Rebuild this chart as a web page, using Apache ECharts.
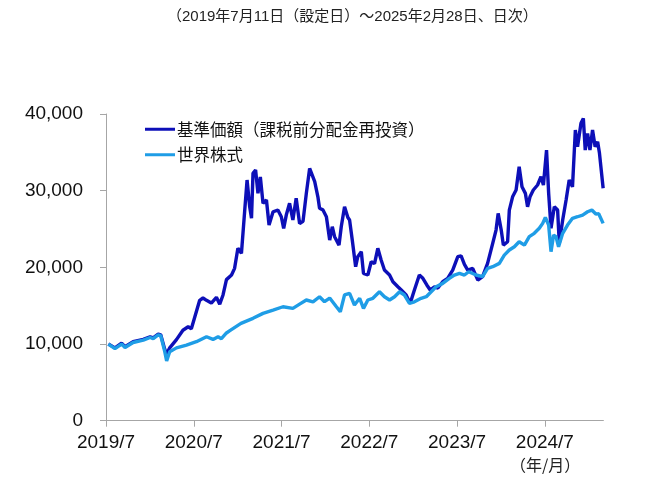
<!DOCTYPE html>
<html>
<head>
<meta charset="utf-8">
<script src="https://cdn.jsdelivr.net/npm/echarts@6/dist/echarts.min.js"></script>
<style>html,body{margin:0;padding:0;background:#fff}#c{width:650px;height:495px}</style>
</head>
<body>
<div id="c"></div>
<script>
const titleText = '（2019年7月11日（設定日）～2025年2月28日、日次）';
const unitText = '（年/月）';
const seriesNames = ['基準価額（課税前分配金再投資）', '世界株式'];
const xTickLabels = ['2019/7', '2020/7', '2021/7', '2022/7', '2023/7', '2024/7'];
const yTicks = [0, 10000, 20000, 30000, 40000];
const startDate = '2019-07-01';
const endDate = '2025-02-28';

const fundDates = ['2019-07-11','2019-08-08','2019-09-05','2019-09-19','2019-10-23','2019-12-04','2020-01-02','2020-01-15','2020-02-05','2020-02-15','2020-03-02','2020-03-10','2020-03-23','2020-04-20','2020-05-17','2020-06-08','2020-06-21','2020-07-05','2020-07-26','2020-08-09','2020-08-24','2020-09-13','2020-10-04','2020-10-18','2020-11-01','2020-11-15','2020-11-21','2020-12-06','2020-12-19','2021-01-02','2021-01-17','2021-01-31','2021-02-09','2021-02-19','2021-02-26','2021-03-04','2021-03-15','2021-03-25','2021-04-04','2021-04-15','2021-04-29','2021-05-10','2021-05-27','2021-06-16','2021-06-30','2021-07-10','2021-07-21','2021-08-04','2021-08-18','2021-09-01','2021-09-15','2021-09-29','2021-10-13','2021-10-27','2021-11-03','2021-11-17','2021-11-30','2021-12-07','2021-12-21','2022-01-05','2022-01-19','2022-01-30','2022-02-08','2022-02-25','2022-03-06','2022-03-20','2022-04-03','2022-04-10','2022-04-21','2022-05-05','2022-05-14','2022-05-29','2022-06-07','2022-06-25','2022-07-09','2022-07-23','2022-08-06','2022-08-20','2022-09-03','2022-09-24','2022-10-08','2022-10-29','2022-11-12','2022-12-02','2022-12-19','2023-01-06','2023-01-27','2023-02-10','2023-02-25','2023-03-11','2023-03-29','2023-04-12','2023-05-02','2023-05-23','2023-06-13','2023-07-04','2023-07-18','2023-08-01','2023-08-15','2023-09-05','2023-09-26','2023-10-16','2023-11-06','2023-11-27','2023-12-11','2023-12-20','2024-01-02','2024-01-11','2024-01-29','2024-02-05','2024-02-18','2024-03-03','2024-03-16','2024-03-28','2024-04-11','2024-04-20','2024-04-30','2024-05-14','2024-06-01','2024-06-15','2024-06-25','2024-07-08','2024-07-17','2024-07-27','2024-08-10','2024-08-24','2024-08-31','2024-09-14','2024-09-28','2024-10-11','2024-10-25','2024-11-06','2024-11-15','2024-11-29','2024-12-09','2024-12-17','2024-12-27','2025-01-06','2025-01-17','2025-01-28','2025-02-07','2025-02-14','2025-02-28'];
const fundValues = [10000,9500,10100,9650,10300,10600,10950,10800,11300,11200,9300,8700,9500,10570,11800,12250,12000,13500,15700,16000,15700,15350,16100,15200,16400,18400,18570,19000,19870,22480,21830,27470,31390,27900,26400,32260,32700,29650,31800,28350,28780,25520,27250,27470,26600,25090,26820,28350,26170,29000,25720,26000,29650,32900,33120,31170,29200,27700,27500,26600,23560,25300,24000,22900,25300,27900,26500,26170,23560,20080,21390,22040,19220,19000,20730,20500,22480,20950,19650,19000,18120,17470,17040,16390,15300,17040,19000,18570,17700,17040,17470,17300,18120,18570,19650,21390,21500,20400,19650,19870,18350,18780,20520,23130,24860,27040,24860,22900,23340,27470,29200,30090,33120,30500,29650,27900,29200,30090,30740,31830,30740,35300,29650,25090,27900,27470,23130,26170,28780,31390,30500,37910,35730,38780,39430,35300,37470,35300,37910,35730,36390,34870,30310];

const worldDates = ['2019-07-11','2019-08-08','2019-09-05','2019-09-19','2019-10-23','2019-12-04','2020-01-02','2020-01-15','2020-02-05','2020-02-15','2020-03-02','2020-03-10','2020-03-23','2020-04-20','2020-06-01','2020-07-12','2020-08-24','2020-09-20','2020-10-11','2020-10-25','2020-11-15','2020-11-29','2021-01-15','2021-03-04','2021-04-15','2021-05-27','2021-07-07','2021-08-18','2021-09-15','2021-10-13','2021-11-10','2021-12-07','2021-12-28','2022-01-19','2022-02-15','2022-03-02','2022-03-20','2022-04-10','2022-04-30','2022-05-22','2022-06-07','2022-06-25','2022-07-16','2022-08-13','2022-09-03','2022-09-24','2022-10-15','2022-11-05','2022-11-25','2022-12-16','2023-01-06','2023-02-03','2023-02-23','2023-03-15','2023-04-05','2023-05-02','2023-05-30','2023-06-20','2023-07-11','2023-08-01','2023-08-19','2023-09-19','2023-10-16','2023-11-06','2023-11-27','2023-12-25','2024-01-15','2024-02-05','2024-02-25','2024-03-16','2024-04-07','2024-04-27','2024-05-18','2024-06-08','2024-06-22','2024-07-03','2024-07-17','2024-07-27','2024-08-07','2024-08-17','2024-08-28','2024-09-14','2024-10-04','2024-10-25','2024-11-15','2024-12-06','2024-12-27','2025-01-14','2025-01-31','2025-02-11','2025-02-28'];
const worldValues = [10000,9400,10000,9550,10200,10500,10850,10700,11200,11100,9000,7800,9000,9500,9870,10300,10950,10600,10950,10700,11440,11740,12700,13350,14000,14430,14860,14650,15200,15740,15500,16170,15520,16000,14860,14210,16400,16610,15090,15960,14650,15740,15960,16820,16170,15740,16170,16820,16390,15300,15500,15960,16170,16820,17470,17910,18570,19000,19220,19000,19430,19000,18780,19870,20080,20520,21600,22260,22690,23340,22900,24000,24440,25090,25740,26520,25520,22040,24210,24000,22690,24440,25520,26390,26600,26820,27250,27470,26950,27000,25740];

// convert date string to months elapsed since startDate
function toMonths(s) {
  const [y, m, d] = s.split('-').map(Number);
  const [y0, m0] = startDate.split('-').map(Number);
  const dim = new Date(y, m, 0).getDate();
  return (y - y0) * 12 + (m - m0) + (d - 1) / dim;
}
const xMax = toMonths(endDate) + 1 / 28;
const xTickVals = xTickLabels.map(function (l) { const p = l.split('/'); return toMonths(p[0] + '-' + ('0' + p[1]).slice(-2) + '-01'); });

const FONT = "'Liberation Sans', Arial, 'Noto Sans CJK JP', sans-serif";
const CJK = "'Noto Sans CJK JP', 'Liberation Sans', sans-serif";

const chart = echarts.init(document.getElementById('c'), null, { renderer: 'canvas' });
chart.setOption({
  animation: false,
  backgroundColor: '#ffffff',
  title: {
    text: titleText,
    left: 162, top: 4,
    textStyle: { fontSize: 15, fontWeight: 'normal', color: '#222', fontFamily: FONT }
  },
  graphic: [{
    type: 'text', left: 510, top: 457,
    style: { text: unitText, fontSize: 16, fill: '#222', fontFamily: CJK }
  }],
  legend: {
    orient: 'vertical', left: 140, top: 116,
    icon: 'rect', itemWidth: 30, itemHeight: 3, itemGap: 9,
    textStyle: { fontSize: 16.5, color: '#111', fontFamily: CJK, padding: [0, 0, 0, -3] },
    data: seriesNames
  },
  grid: { left: 106, right: 46.6, top: 114, bottom: 74.3, containLabel: false },
  xAxis: {
    type: 'value', min: 0, max: xMax,
    axisLine: { show: true, lineStyle: { color: '#a6a6a6', width: 1 } },
    axisTick: { show: true, length: 6, lineStyle: { color: '#a6a6a6' }, customValues: xTickVals },
    axisLabel: {
      customValues: xTickVals,
      formatter: function (v) { const i = xTickVals.findIndex(t => Math.abs(t - v) < 1e-6); return i >= 0 ? xTickLabels[i] : ''; },
      fontSize: 19, color: '#111', fontFamily: FONT, margin: 13
    },
    splitLine: { show: false }
  },
  yAxis: {
    type: 'value', min: yTicks[0], max: yTicks[yTicks.length - 1], interval: 10000,
    axisLine: { show: true, lineStyle: { color: '#a6a6a6', width: 1 } },
    axisTick: { show: true, length: 6, lineStyle: { color: '#a6a6a6' } },
    axisLabel: {
      formatter: function (v) { return v.toLocaleString('en-US'); },
      fontSize: 19, color: '#111', fontFamily: FONT, margin: 23
    },
    splitLine: { show: false }
  },
  series: [
    {
      name: seriesNames[0], type: 'line', showSymbol: false, symbol: 'none',
      color: '#0d0fb8',
      lineStyle: { width: 3.4, color: '#0d0fb8' },
      data: fundDates.map((d, i) => [toMonths(d), fundValues[i]])
    },
    {
      name: seriesNames[1], type: 'line', showSymbol: false, symbol: 'none',
      color: '#1f9de6',
      lineStyle: { width: 3.4, color: '#1f9de6' },
      data: worldDates.map((d, i) => [toMonths(d), worldValues[i]])
    }
  ]
});
</script>
</body>
</html>
